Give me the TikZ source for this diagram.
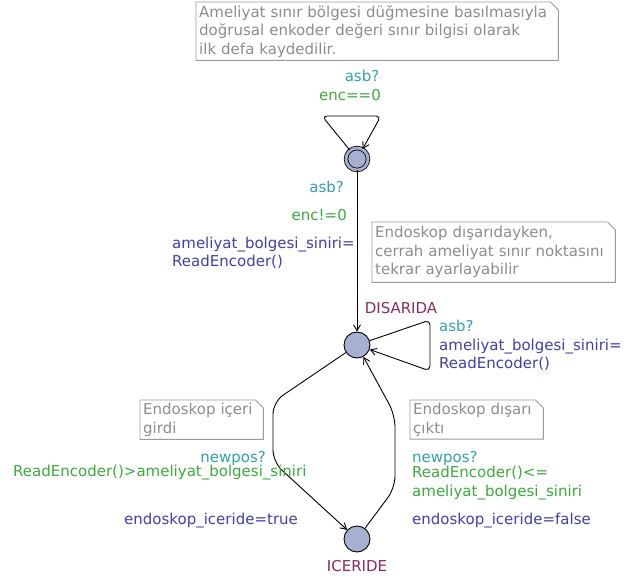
\documentclass[tikz,border=0pt]{standalone}
\usepackage{fontspec}
\setmainfont{DejaVu Sans}
\usetikzlibrary{arrows.meta}
\definecolor{loc_fill}{RGB}{168,176,208}
\definecolor{sync_c}{RGB}{50,160,168}
\definecolor{guard_c}{RGB}{60,170,60}
\definecolor{upd_c}{RGB}{64,64,170}
\definecolor{name_c}{RGB}{140,40,90}
\definecolor{note_txt}{RGB}{140,140,140}
\definecolor{note_line}{RGB}{155,155,155}

\begin{document}
\begin{tikzpicture}[x=1pt,y=-1pt,>={Straight Barb[length=6pt,width=7pt]},font=\fontsize{15}{18.5}\selectfont]
    \tikzstyle{loc}=[circle,draw=black,fill=loc_fill,line width=0.9pt,minimum size=26pt,inner sep=0pt]
    \tikzstyle{initloc}=[loc,minimum size=22pt,double=loc_fill,double distance=2.8pt,line width=0.8pt]
    \tikzstyle{edge}=[->,draw=black,line width=0.9pt]
    \tikzstyle{lbl}=[inner sep=0pt,align=left]
    \tikzstyle{note}=[text=note_txt,align=left,inner sep=3pt,anchor=north west]
    \tikzstyle{noteline}=[draw=note_line,line width=0.9pt]

    \useasboundingbox (0,0) rectangle (636,580);

    % locations
    \node[initloc] (INIT) at (357,159) {};
    \node[loc] (DIS) at (357,345) {};
    \node[loc] (ICE) at (357,539) {};
    \node[text=name_c] (DISn) at (401,308) {DISARIDA};
    \node[text=name_c] (ICEn) at (357,566) {ICERIDE};

    % comments
    \node[note,text width=356pt,minimum height=58pt] (N1) at (196,2)
      {Ameliyat sınır bölgesi düğmesine basılmasıyla\\doğrusal enkoder değeri sınır bilgisi olarak\\ilk defa kaydedilir.};
    \node[note,text width=237pt,minimum height=60pt] (N2) at (372,222)
      {Endoskop dışarıdayken,\\cerrah ameliyat sınır noktasını\\tekrar ayarlayabilir};
    \node[note,text width=117pt,minimum height=38pt] (N3) at (140,400)
      {Endoskop içeri\\girdi};
    \node[note,text width=127pt,minimum height=38pt] (N4) at (410,400)
      {Endoskop dışarı\\çıktı};
    \foreach \n in {N1,N2,N3,N4}
      \draw[noteline] (\n.south west) -- (\n.north west) -- ([xshift=-8pt]\n.north east)
        -- ([yshift=-8pt]\n.north east) -- (\n.south east) -- cycle;

    % bend points
    \coordinate (a1) at (322,116);
    \coordinate (a2) at (381,116);
    \coordinate (b1) at (430,320);
    \coordinate (b2) at (430,371);
    \coordinate (c1) at (273,402);
    \coordinate (c2) at (273,462);
    \coordinate (d1) at (395,488);
    \coordinate (d2) at (395,415);

    % transitions
    \draw[edge,rounded corners=5pt] (INIT) -- (a1) -- (a2) -- (INIT);
    \draw[edge] (INIT) -- (DIS);
    \draw[edge,rounded corners=5pt] (DIS) -- (b1) -- (b2) -- (DIS);
    \draw[edge,rounded corners=12pt] (DIS) -- (c1) -- (c2) -- (ICE);
    \draw[edge,rounded corners=12pt] (ICE) -- (d1) -- (d2) -- (DIS);

    % labels
    \node[lbl,text=sync_c] (s1) at (362,76) {asb?};
    \node[lbl,text=guard_c] (g1) at (350,95) {enc==0};

    \node[lbl,text=sync_c,anchor=east] (s2) at (344,187) {asb?};
    \node[lbl,text=guard_c,anchor=east] (g2) at (347,215) {enc!=0};
    \node[lbl,text=upd_c,anchor=west] (u2) at (172,253) {ameliyat\_bolgesi\_siniri=\\ReadEncoder()};

    \node[lbl,text=sync_c,anchor=west] (s3) at (439,326) {asb?};
    \node[lbl,text=upd_c,anchor=west] (u3) at (439,355) {ameliyat\_bolgesi\_siniri=\\ReadEncoder()};

    \node[lbl,text=sync_c,anchor=east] (s4) at (266,458) {newpos?};
    \node[lbl,text=guard_c,anchor=west] (g4) at (13,473) {ReadEncoder()>ameliyat\_bolgesi\_siniri};
    \node[lbl,text=upd_c,anchor=west] (u4) at (124,521) {endoskop\_iceride=true};

    \node[lbl,text=sync_c,anchor=west] (s5) at (412,458) {newpos?};
    \node[lbl,text=guard_c,anchor=west] (g5) at (412,483) {ReadEncoder()<=\\ameliyat\_bolgesi\_siniri};
    \node[lbl,text=upd_c,anchor=west] (u5) at (412,521) {endoskop\_iceride=false};
\end{tikzpicture}
\end{document}
